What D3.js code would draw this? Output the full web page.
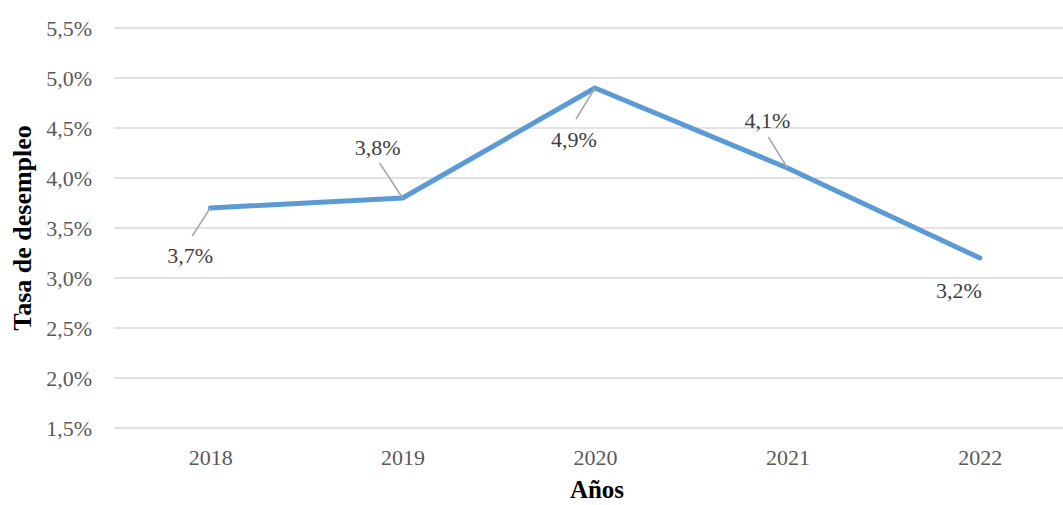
<!DOCTYPE html>
<html>
<head>
<meta charset="utf-8">
<script src="https://cdn.jsdelivr.net/npm/d3@7"></script>
<style>
	body { margin: 0; background: #fff; }
	svg, svg text { font-family: "Liberation Serif", "Times New Roman", serif; }
</style>
</head>
<body>
<div id="chart"></div>
<script>
// data
var years = ['2018', '2019', '2020', '2021', '2022']
var rates = [3.7, 3.8, 4.9, 4.1, 3.2]
var yTicks = [1.5, 2.0, 2.5, 3.0, 3.5, 4.0, 4.5, 5.0, 5.5]

// label placement, relative to each point: text [dx, dy], leader start [lx, ly]
var labelPos = [
	{ dx: -20, dy: 55, lx: -18, ly: 28 },
	{ dx: -25, dy: -43, lx: -23, ly: -35 },
	{ dx: -21, dy: 59, lx: -19, ly: 31 },
	{ dx: -20, dy: -40, lx: -19, ly: -31 },
	{ dx: -21, dy: 40, lx: null, ly: null }
]

var width = 1063
var height = 505
var left = 114
var right = 1076
var serif = '"Liberation Serif", "Times New Roman", serif'

var fmt = function(v) { return v.toFixed(1).replace('.', ',') + '%' }

var svg = d3.select('#chart').append('svg')
	.attr('width', width)
	.attr('height', height)

var x = d3.scalePoint()
	.domain(years)
	.range([left, right])
	.padding(0.5)

var y = d3.scaleLinear()
	.domain([1.5, 5.5])
	.range([428, 28])

// gridlines
svg.append('g')
	.selectAll('line')
	.data(yTicks)
	.enter().append('line')
	.attr('x1', left)
	.attr('x2', right)
	.attr('y1', function(d) { return y(d) })
	.attr('y2', function(d) { return y(d) })
	.attr('stroke', '#d9d9d9')
	.attr('stroke-width', 1.5)

// y axis
var yAxis = d3.axisLeft(y)
	.tickValues(yTicks)
	.tickFormat(fmt)
	.tickSize(0)
	.tickPadding(0)

svg.append('g')
	.attr('transform', 'translate(92,0)')
	.call(yAxis)
	.attr('font-family', serif)
	.attr('font-size', 22)
	.call(function(g) { g.select('.domain').remove() })
	.selectAll('text')
	.style('font-family', serif)
	.attr('fill', '#595959')
	.attr('dy', '0.33em')

// x axis
var xAxis = d3.axisBottom(x)
	.tickSize(0)
	.tickPadding(0)

svg.append('g')
	.attr('transform', 'translate(0,465)')
	.call(xAxis)
	.attr('font-family', serif)
	.attr('font-size', 22)
	.call(function(g) { g.select('.domain').remove() })
	.selectAll('text')
	.style('font-family', serif)
	.attr('fill', '#595959')
	.attr('dy', 0)

// axis titles
svg.append('text')
	.attr('x', 597)
	.attr('y', 498)
	.attr('text-anchor', 'middle')
	.attr('font-size', 25)
	.attr('font-weight', 'bold')
	.attr('fill', '#000')
	.text('Años')

svg.append('text')
	.attr('transform', 'translate(31,228) rotate(-90)')
	.attr('text-anchor', 'middle')
	.attr('font-size', 26)
	.attr('font-weight', 'bold')
	.attr('fill', '#000')
	.text('Tasa de desempleo')

// line
var line = d3.line()
	.x(function(d, i) { return x(years[i]) })
	.y(function(d) { return y(d) })

svg.append('path')
	.datum(rates)
	.attr('d', line)
	.attr('fill', 'none')
	.attr('stroke', '#5b9bd5')
	.attr('stroke-width', 5)
	.attr('stroke-linecap', 'round')
	.attr('stroke-linejoin', 'round')

// leader lines and data labels
var labels = svg.append('g')

rates.forEach(function(v, i) {
	var px = x(years[i])
	var py = y(v)
	var p = labelPos[i]
	if (p.lx !== null) {
		labels.append('line')
			.attr('x1', px + p.lx)
			.attr('y1', py + p.ly)
			.attr('x2', px)
			.attr('y2', py)
			.attr('stroke', '#a6a6a6')
			.attr('stroke-width', 1.5)
	}
	labels.append('text')
		.attr('x', px + p.dx)
		.attr('y', py + p.dy)
		.attr('text-anchor', 'middle')
		.attr('font-size', 22)
		.attr('fill', '#404040')
		.text(fmt(v))
})
</script>
</body>
</html>
